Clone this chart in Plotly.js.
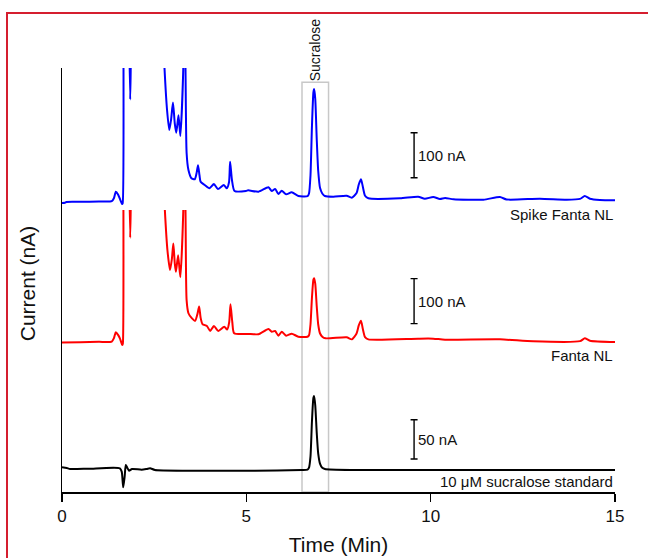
<!DOCTYPE html>
<html>
<head>
<meta charset="utf-8">
<script src="https://cdn.plot.ly/plotly-3.0.1.min.js"></script>
<style>
  body { margin: 0; background: #fff; }
  #wrap { position: relative; width: 648px; height: 558px; }
  #chart_div { width: 648px; height: 558px; }
  #frame {
    position: absolute; left: 6px; top: 12px; width: 642px; height: 546px;
    box-sizing: border-box; border-top: 2px solid #d51e2f; border-left: 2px solid #d51e2f;
    pointer-events: none;
  }
</style>
</head>
<body>
<div id="wrap">
  <div id="chart_div"></div>
  <div id="frame"></div>
</div>
<script>
// chromatograms, current in nA above each trace's own baseline
// (off-scale values at the early peaks are rough guesses, they get clipped anyway)
var spikeTime = [0.00, 0.08, 0.12, 0.5, 1.0, 1.35, 1.41, 1.46, 1.52, 1.58, 1.63, 1.645, 1.665, 1.75, 1.81, 1.85, 1.89, 2.2, 2.6, 2.78,
    2.85, 2.91, 2.96, 3.01, 3.06, 3.10, 3.16, 3.21, 3.29, 3.31, 3.35, 3.38, 3.43, 3.51, 3.6, 3.65, 3.69, 3.73, 3.76, 3.87,
    4.0, 4.12, 4.23, 4.39, 4.47, 4.53, 4.56, 4.61, 4.68, 4.99, 5.05, 5.33, 5.6, 5.69, 5.78, 5.87, 5.96, 6.08, 6.23, 6.41,
    6.66, 6.70, 6.74, 6.78, 6.82, 6.84, 6.87, 6.91, 6.95, 7.00, 7.06, 7.13, 7.36, 7.72, 7.86, 7.99, 8.05, 8.11, 8.16, 8.22,
    8.31, 9.17, 9.66, 9.84, 10.07, 10.25, 10.39, 10.62, 11.43, 11.88, 12.06, 12.96, 13.69, 14.05, 14.18, 14.32, 14.59, 15.0];
var spikeCurrent = [-1, -0.5, 1.2, 1.5, 2.2, 2.9, 10, 24, 18, 6, -3.3, -2, 700, 900, 420, 229, 420, 900, 650, 299,
    205, 161, 185, 222, 175, 155, 194, 148, 299, 500, 299, 110, 72, 54, 51.6, 65, 83, 60, 46, 39,
    31.5, 41, 30, 39, 31.5, 45, 90.7, 50, 25.6, 25.6, 27, 24, 33.8, 25.6, 30, 18.9, 26.2, 18.2, 22.7, 14.4,
    14, 20, 60, 170, 245, 252, 230, 140, 70, 32, 20, 14.4, 12.9, 15.1, 10.7, 21, 40, 51.6, 35, 15,
    9.3, 9.3, 12.9, 8.4, 12.2, 7.8, 10, 7.1, 6.2, 12.2, 6.7, 8.4, 6.2, 8, 14.4, 8.4, 5.6, 4.9];

var fantaTime = [0.00, 0.5, 1.0, 1.35, 1.41, 1.46, 1.52, 1.57, 1.635, 1.65, 1.665, 1.75, 1.81, 1.85, 1.89, 2.2, 2.6, 2.79,
    2.86, 2.93, 2.98, 3.02, 3.06, 3.09, 3.15, 3.21, 3.29, 3.31, 3.35, 3.38, 3.43, 3.52, 3.61, 3.67, 3.72, 3.76, 3.81, 3.93,
    4.02, 4.12, 4.24, 4.40, 4.48, 4.535, 4.57, 4.62, 4.67, 5.05, 5.33, 5.6, 5.69, 5.78, 5.87, 5.96, 6.08, 6.23, 6.41,
    6.66, 6.70, 6.74, 6.78, 6.82, 6.84, 6.87, 6.91, 6.95, 7.00, 7.06, 7.15, 7.72, 7.86, 7.99, 8.05, 8.11, 8.16, 8.22,
    8.31, 9.66, 10.07, 10.39, 11.88, 12.78, 14.05, 14.18, 14.32, 15.0];
var fantaCurrent = [0, 0.8, 1.5, 2.2, 10, 22.7, 17, 9.3, -5.6, -3, 700, 900, 420, 233, 420, 900, 650, 294,
    205, 161, 185, 220, 175, 157, 194, 145, 294, 450, 294, 94, 65, 54, 48, 62, 80, 55, 41, 36.7,
    25.6, 36.7, 25.6, 35, 29, 45, 85, 45, 20.4, 19, 18.4, 30, 24, 25.6, 15.1, 24, 15.1, 19.6, 12.9,
    12.9, 16, 40, 100, 140, 143, 130, 80, 40, 20, 13, 9.3, 11.6, 7, 20, 38, 48.5, 30, 12,
    7, 8.5, 8.5, 6.3, 7, 2.6, 3, 9.3, 4, 1.1];

var stdTime = [0.00, 0.13, 0.22, 0.72, 1.57, 1.62, 1.66, 1.70, 1.73, 1.77, 1.82, 1.90, 2.16, 2.30, 2.39, 2.52, 3.42, 5.23,
    6.50, 6.66, 6.70, 6.74, 6.78, 6.82, 6.84, 6.87, 6.91, 6.95, 7.00, 7.06, 7.13, 7.92, 15.0];
var stdCurrent = [1.5, 0.6, -0.6, -0.3, 0.3, -4, -23.9, -10, 4.4, 1, -2.8, -0.6, -1.5, -0.5, 0.3, -1.9, -2.8, -2.8,
    -1.9, -1.5, 1, 15, 60, 90, 92, 80, 45, 19, 6, 1, -0.6, -1.9, -1.9];

var sampleNames = ["Spike Fanta NL", "Fanta NL", "10 \u03bcM sucralose standard"];
var xTicks = [0, 5, 10, 15];

// scale bars: spike, fanta, standard
var barTime = 9.55;
var barBase = [55, 42, 12];
var barSize = [100, 100, 50];
var barLabel = ["100 nA", "100 nA", "50 nA"];

// sucralose window (min)
var sucraloseWindow = [6.51, 7.23];

var FONT = "Liberation Sans, Arial, sans-serif";

function drawChart() {
    var axisIds = ["y3", "y2", "y"];
    var times = [spikeTime, fantaTime, stdTime];
    var currents = [spikeCurrent, fantaCurrent, stdCurrent];
    var colors = ["#0000ff", "#ff0000", "#000000"];

    var data = [];
    for (var i = 0; i < 3; i++) {
        data.push({
            x: times[i],
            y: currents[i],
            yaxis: axisIds[i],
            type: "scatter",
            mode: "lines",
            name: sampleNames[i],
            line: {color: colors[i], width: 2, shape: "spline", smoothing: 0.6},
            hoverinfo: "skip",
            showlegend: false
        });
    }

    for (i = 0; i < 3; i++) {
        data.push({
            x: [barTime],
            y: [barBase[i] + barSize[i] / 2],
            yaxis: axisIds[i],
            type: "scatter",
            mode: "markers",
            marker: {size: 1, color: "rgba(0,0,0,0)"},
            error_y: {
                type: "data",
                array: [barSize[i] / 2],
                visible: true,
                color: "#000",
                thickness: 1.4,
                width: 3.5
            },
            hoverinfo: "skip",
            showlegend: false
        });
    }

    var annotations = [];
    var labelY = [0.655, 0.3208, 0.0259];
    for (i = 0; i < 3; i++) {
        annotations.push({
            x: 15, xref: "x", y: labelY[i], yref: "paper",
            xanchor: "right", yanchor: "middle",
            text: sampleNames[i], showarrow: false,
            font: {family: FONT, size: 15, color: "#111"}
        });
        annotations.push({
            x: barTime, xref: "x", y: barBase[i] + barSize[i] / 2, yref: axisIds[i],
            xanchor: "left", yanchor: "middle", xshift: 2,
            text: barLabel[i], showarrow: false,
            font: {family: FONT, size: 15, color: "#111"}
        });
    }
    annotations.push({
        x: (sucraloseWindow[0] + sucraloseWindow[1]) / 2, xref: "x", y: 1.0425, yref: "paper",
        xanchor: "center", yanchor: "middle", textangle: -90,
        text: "Sucralose", showarrow: false,
        font: {family: FONT, size: 14, color: "#111"}
    });
    annotations.push({
        x: -0.061, xref: "paper", y: 0.493, yref: "paper",
        xanchor: "center", yanchor: "middle", textangle: -90,
        text: "Current (nA)", showarrow: false,
        font: {family: FONT, size: 21, color: "#111"}
    });

    var yBase = {
        showline: true, linecolor: "#000", linewidth: 1.5,
        showticklabels: false, ticks: "", showgrid: false, zeroline: false,
        fixedrange: true
    };

    var layout = {
        width: 648,
        height: 558,
        margin: {l: 62, r: 33, t: 68, b: 66},
        paper_bgcolor: "#fff",
        plot_bgcolor: "rgba(0,0,0,0)",
        font: {family: FONT, color: "#111"},
        xaxis: {
            range: [0, 15],
            tickvals: xTicks,
            ticks: "outside", ticklen: 8, tickwidth: 1.5, tickcolor: "#000",
            showline: true, linecolor: "#000", linewidth: 1.5,
            showgrid: false, zeroline: false,
            tickfont: {family: FONT, size: 17, color: "#111"},
            anchor: "y",
            title: {text: "Time (Min)", font: {family: FONT, size: 21, color: "#111"}, standoff: 12}
        },
        yaxis: Object.assign({}, yBase, {domain: [0, 0.3113], range: [-29.86, 137.9]}),
        yaxis2: Object.assign({}, yBase, {domain: [0.3113, 0.6651], range: [-38.89, 294.4], anchor: "x"}),
        yaxis3: Object.assign({}, yBase, {domain: [0.6651, 1], range: [-16.67, 298.9], anchor: "x"}),
        shapes: [{
            type: "rect", xref: "x", yref: "paper",
            x0: sucraloseWindow[0], x1: sucraloseWindow[1], y0: 0, y1: 0.9663,
            line: {color: "#c8c8c8", width: 1.5},
            layer: "below"
        }],
        annotations: annotations
    };

    Plotly.newPlot("chart_div", data, layout, {displayModeBar: false, staticPlot: true});
}

drawChart();
</script>
</body>
</html>
